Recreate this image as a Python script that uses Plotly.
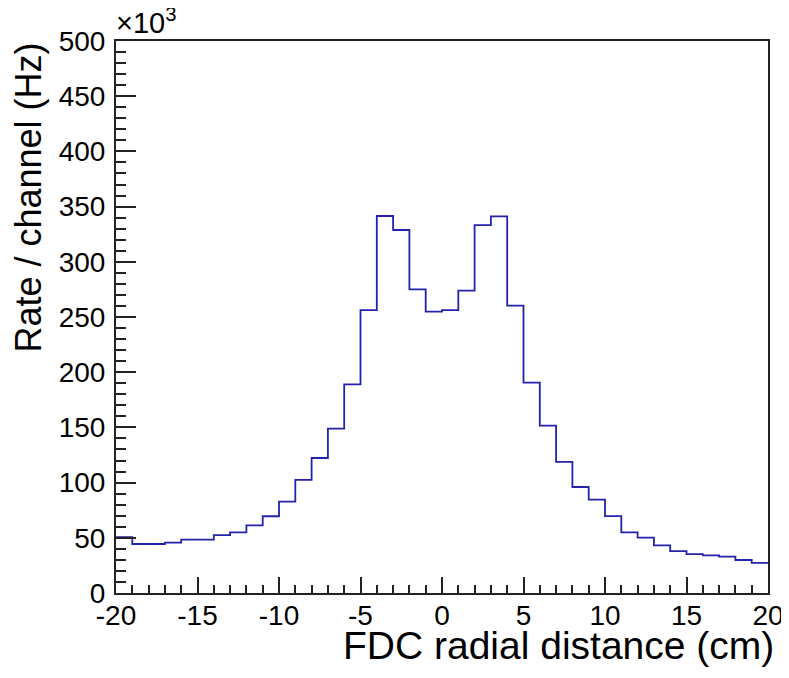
import plotly.graph_objects as go

# Bin edges (cm) and rate per channel (in units of 10^3 Hz)
bin_edges = list(range(-20, 21))
rate_k = [50.7, 44.4, 44.4, 45.6, 48.3, 48.3, 52.5, 55.0, 61.3, 69.5,
          82.7, 102.4, 122.3, 148.8, 189.0, 256.3, 341.5, 328.8, 275.0, 254.8,
          256.3, 273.9, 333.3, 341.2, 260.3, 190.5, 151.6, 118.7, 96.0, 84.5,
          69.7, 55.0, 50.1, 43.2, 38.0, 35.3, 34.1, 32.9, 29.9, 27.2]
x_ticks = [-20, -15, -10, -5, 0, 5, 10, 15, 20]
y_ticks = list(range(0, 501, 50))

FONT = "Liberation Sans, Arial, Helvetica, sans-serif"
AXC = "#222222"

fig = go.Figure()
fig.add_trace(go.Scatter(
    x=bin_edges,
    y=rate_k + [rate_k[-1]],
    mode="lines",
    line=dict(shape="hv", color="#2222aa", width=1.8),
    hoverinfo="skip",
    showlegend=False,
))

# page body has an 8px default margin; figure sized/margined to compensate
fig.update_layout(
    width=781, height=670,
    margin=dict(l=108, r=21, t=33, b=85),
    paper_bgcolor="white", plot_bgcolor="white",
    font=dict(family=FONT, color="black"),
    showlegend=False,
)
fig.update_xaxes(
    range=[-20, 20], automargin=False,
    tickmode="array", tickvals=x_ticks, ticktext=[str(v) for v in x_ticks],
    ticks="inside", ticklen=16, tickwidth=1.5, tickcolor=AXC,
    minor=dict(ticks="inside", ticklen=8, dtick=1, tick0=0, tickcolor=AXC, tickwidth=1.5),
    showline=True, linecolor=AXC, linewidth=2, mirror=True,
    showgrid=False, zeroline=False,
    tickfont=dict(size=28, family=FONT, color="black"),
    ticklabelstandoff=-4,
)
fig.update_yaxes(
    range=[0, 500], automargin=False,
    tickmode="array", tickvals=y_ticks, ticktext=[str(v) for v in y_ticks],
    ticks="inside", ticklen=20, tickwidth=1.5, tickcolor=AXC,
    minor=dict(ticks="inside", ticklen=10, dtick=10, tick0=0, tickcolor=AXC, tickwidth=1.5),
    showline=True, linecolor=AXC, linewidth=2, mirror=True,
    showgrid=False, zeroline=False,
    tickfont=dict(size=28, family=FONT, color="black"),
    ticklabelstandoff=3,
)

fig.add_annotation(
    text="FDC radial distance (cm)", xref="paper", yref="paper",
    x=1.012, y=-0.0525, xanchor="right", yanchor="top", showarrow=False,
    font=dict(size=39, family=FONT, color="black"),
)
fig.add_annotation(
    text="Rate / channel (Hz)", xref="paper", yref="paper",
    x=-0.134, y=0.7156, xanchor="center", yanchor="middle", textangle=-90, showarrow=False,
    font=dict(size=36, family=FONT, color="black"),
)
fig.add_annotation(
    text="×10<sup>3</sup>", xref="paper", yref="paper",
    x=-0.003, y=1.0, xanchor="left", yanchor="bottom", showarrow=False,
    font=dict(size=29, family=FONT, color="black"),
)

fig.write_html("out.html")
